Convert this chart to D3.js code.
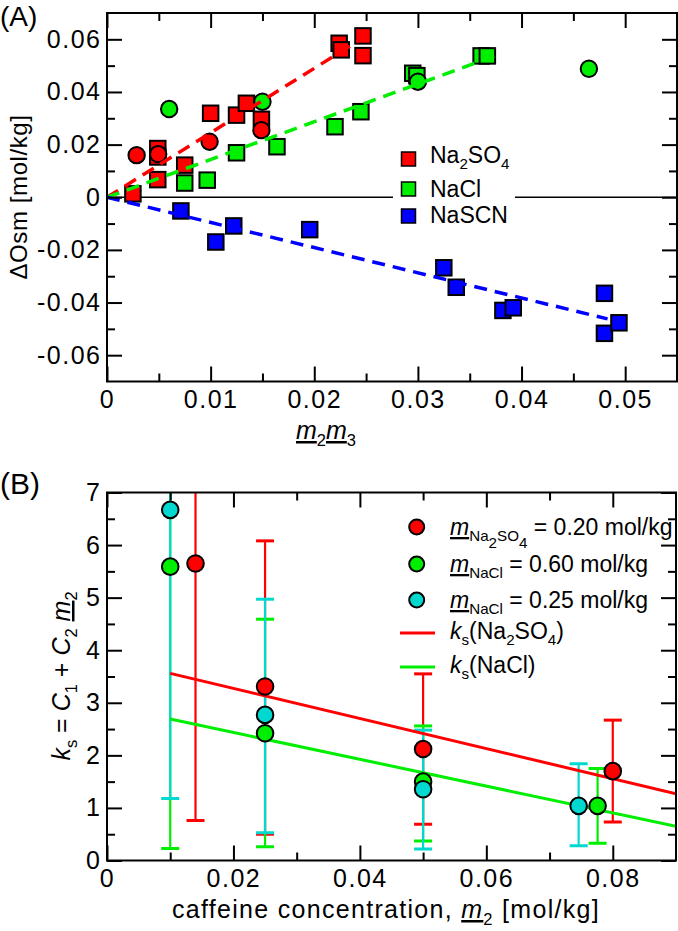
<!DOCTYPE html>
<html><head><meta charset="utf-8">
<script src="https://cdn.jsdelivr.net/npm/d3@7"></script>
<style>
html,body{margin:0;padding:0;background:#fff;}
svg text{font-family:"Liberation Sans",Arial,Helvetica,sans-serif;fill:#000;}
</style></head>
<body><svg id="c" width="678" height="931"></svg>
<script>
// ---------- Panel A data: [m2m3, ΔOsm] ----------
const na2so4Squares = [[0.0025,0.0013],[0.0049,0.0185],[0.0049,0.0153],[0.0049,0.0067],[0.0075,0.0122],[0.0100,0.0319],[0.0125,0.0312],[0.01345,0.0357],[0.0149,0.0296],[0.0224,0.0585],[0.0226,0.0560],[0.0247,0.0613],[0.0247,0.0538]];
const na2so4Circles = [[0.00286,0.0160],[0.00494,0.0164],[0.0099,0.0211],[0.0149,0.0255]];
const naclSquares = [[0.0075,0.0054],[0.00967,0.0065],[0.0125,0.0169],[0.0164,0.0192],[0.0220,0.0268],[0.0245,0.0325],[0.0295,0.0471],[0.0299,0.0462],[0.0361,0.0537],[0.0367,0.0537]];
const naclCircles = [[0.0060,0.0335],[0.0150,0.0363],[0.0300,0.0439],[0.0465,0.0488]];
const nascnSquares = [[0.00713,-0.0052],[0.0105,-0.0170],[0.01223,-0.0109],[0.01956,-0.0123],[0.0325,-0.0268],[0.0337,-0.0342],[0.0382,-0.0430],[0.0392,-0.0420],[0.0480,-0.0365],[0.0480,-0.0517],[0.0494,-0.0477]];
const fitNa2so4A = [[0,0],[0.0247,0.0605]];
const fitNaclA = [[0,0],[0.0380,0.0545]];
const fitNascnA = [[0,0],[0.0483,-0.0462]];
const aXMajor = [0,0.01,0.02,0.03,0.04,0.05];
const aXMinor = [0.005,0.015,0.025,0.035,0.045];
const aYMajor = [-0.06,-0.04,-0.02,0,0.02,0.04,0.06];
const aYMinor = [-0.05,-0.03,-0.01,0.01,0.03,0.05];

// ---------- Panel B data ----------
const bNa2so4X = [0.014,0.025,0.05,0.08];
const bNa2so4Y = [5.65,3.31,2.12,1.70];
const bNa2so4Lo = [0.76,0.50,0.69,0.73];
const bNa2so4Hi = [10.54,6.08,3.55,2.67];
const bNacl60X = [0.01,0.025,0.05,0.0776];
const bNacl60Y = [5.59,2.42,1.50,1.04];
const bNacl60Lo = [0.23,0.26,0.37,0.33];
const bNacl60Hi = [10.95,4.59,2.56,1.75];
const bNacl25X = [0.01,0.025,0.05,0.0746];
const bNacl25Y = [6.67,2.77,1.355,1.04];
const bNacl25Lo = [1.18,0.53,0.22,0.28];
const bNacl25Hi = [12.16,4.97,2.48,1.84];
const fitNa2so4B = [[0.01,3.56],[0.09,1.27]];
const fitNaclB = [[0.01,2.69],[0.09,0.65]];
const bXMajor = [0,0.02,0.04,0.06,0.08];
const bXMinor = [0.01,0.03,0.05,0.07];
const bYMajor = [0,1,2,3,4,5,6,7];
const bYMinor = [0.5,1.5,2.5,3.5,4.5,5.5,6.5];

const RED="#ff0000", GREEN="#00ee00", BLUE="#0000ff", CYAN="#00d8d0";

const svg = d3.select("#c");

// rich text helper
function rich(g, parts, fs, anchor, ls){
  const t = g.append("text").attr("font-size",fs).attr("text-anchor",anchor||"start");
  if(ls) t.attr("letter-spacing",ls);
  let shift = 0;
  parts.forEach(p=>{
    const s = t.append("tspan").text(p.t);
    let target = 0, size = fs;
    if(p.sub){ target = p.sub*fs*0.28; size = fs*0.66; }
    s.attr("dy", target-shift).attr("font-size", size);
    shift = target;
    if(p.it) s.attr("font-style","italic");
    if(p.u) s.attr("text-decoration","underline");
  });
  return t;
}

function axes(g, x, y, xMaj, xMin, yMaj, yMin, xfmt, yfmt){
  const [x0,x1] = x.range(), [y0,y1] = y.range();
  const mk = (ax, tr, size, fmt, pad) => {
    const a = g.append("g").attr("transform",tr).call(ax.tickSizeInner(-size).tickSizeOuter(0).tickPadding(pad).tickFormat(fmt));
    a.select(".domain").remove();
    a.selectAll("line").attr("stroke","#000").attr("stroke-width",2);
    a.attr("font-family",null).attr("font-size",25);
    a.selectAll("text").attr("letter-spacing",1.5);
    return a;
  };
  const none = ()=>"";
  mk(d3.axisBottom(x).tickValues(xMaj), `translate(0,${y0})`, 15, xfmt, 9);
  mk(d3.axisBottom(x).tickValues(xMin), `translate(0,${y0})`, 8, none, 9);
  mk(d3.axisTop(x).tickValues(xMaj), `translate(0,${y1})`, 15, none, 3);
  mk(d3.axisTop(x).tickValues(xMin), `translate(0,${y1})`, 8, none, 3);
  mk(d3.axisLeft(y).tickValues(yMaj), `translate(${x0},0)`, 15, yfmt, 5.5);
  mk(d3.axisLeft(y).tickValues(yMin), `translate(${x0},0)`, 8, none, 5.5);
  mk(d3.axisRight(y).tickValues(yMaj), `translate(${x1},0)`, 15, none, 3);
  mk(d3.axisRight(y).tickValues(yMin), `translate(${x1},0)`, 8, none, 3);
  g.append("rect").attr("x",x0).attr("y",y1).attr("width",x1-x0).attr("height",y0-y1)
    .attr("fill","none").attr("stroke","#000").attr("stroke-width",2);
}

const fmtDec = d => d===0 ? "0" : (d<0?"-":"") + Math.abs(d).toFixed(2);

// ================= Panel A =================
const xA = d3.scaleLinear([0,0.055],[107,677]);
const yA = d3.scaleLinear([-0.07,0.07],[381.5,13]);
const gA = svg.append("g");

// zero line
gA.append("line").attr("x1",xA(0)).attr("x2",xA(0.055)).attr("y1",yA(0)).attr("y2",yA(0))
  .attr("stroke","#000").attr("stroke-width",1.5);

const sq = 15.5;
function squares(data, col){
  gA.append("g").selectAll("rect").data(data).join("rect")
    .attr("x",d=>xA(d[0])-sq/2).attr("y",d=>yA(d[1])-sq/2).attr("width",sq).attr("height",sq)
    .attr("fill",col).attr("stroke","#000").attr("stroke-width",2);
}
function circlesA(data, col){
  gA.append("g").selectAll("circle").data(data).join("circle")
    .attr("cx",d=>xA(d[0])).attr("cy",d=>yA(d[1])).attr("r",8.2)
    .attr("fill",col).attr("stroke","#000").attr("stroke-width",2);
}
squares(na2so4Squares, RED);
circlesA(na2so4Circles, RED);
squares(naclSquares, GREEN);
circlesA(naclCircles, GREEN);
squares(nascnSquares, BLUE);

const lineA = d3.line().x(d=>xA(d[0])).y(d=>yA(d[1]));
[[fitNa2so4A,RED],[fitNaclA,GREEN],[fitNascnA,BLUE]].forEach(([d,c])=>{
  gA.append("path").attr("d",lineA(d)).attr("fill","none").attr("stroke",c)
    .attr("stroke-width",3.5).attr("stroke-dasharray","13,8");
});

// legend A
gA.append("rect").attr("x",393).attr("y",142).attr("width",122).attr("height",88).attr("fill","#fff");
const legA = [
  {c:RED, y:159, by:163, parts:[{t:"Na"},{t:"2",sub:1},{t:"SO"},{t:"4",sub:1}]},
  {c:GREEN, y:189, by:197, parts:[{t:"NaCl"}]},
  {c:BLUE, y:216, by:223, parts:[{t:"NaSCN"}]}
];
legA.forEach(l=>{
  gA.append("rect").attr("x",408.5-7).attr("y",l.y-7).attr("width",14).attr("height",14)
    .attr("fill",l.c).attr("stroke","#000").attr("stroke-width",1.5);
  rich(gA.append("g").attr("transform",`translate(430,${l.by})`), l.parts, 23);
});

axes(gA, xA, yA, aXMajor, aXMinor, aYMajor, aYMinor, fmtDec, fmtDec);

// labels A
rich(svg.append("g").attr("transform","translate(0,26)"), [{t:"(A)"}], 28);
rich(svg.append("g").attr("transform","translate(27,197) rotate(-90)"), [{t:"ΔOsm [mol/kg]"}], 24, "middle", 0.6);
rich(svg.append("g").attr("transform","translate(326,439)"),
  [{t:"m",it:1,u:1},{t:"2",sub:1},{t:"m",it:1,u:1},{t:"3",sub:1}], 25, "middle");

// ================= Panel B =================
const xB = d3.scaleLinear([0,0.09],[107,676]);
const yB = d3.scaleLinear([0,7],[860.5,492.5]);
const gB = svg.append("g");
svg.append("clipPath").attr("id","clipB").append("rect")
  .attr("x",107).attr("y",492.5).attr("width",569).attr("height",368);
const dB = gB.append("g").attr("clip-path","url(#clipB)");

const seriesB = [
  {c:RED, x:bNa2so4X, y:bNa2so4Y, lo:bNa2so4Lo, hi:bNa2so4Hi},
  {c:GREEN, x:bNacl60X, y:bNacl60Y, lo:bNacl60Lo, hi:bNacl60Hi},
  {c:CYAN, x:bNacl25X, y:bNacl25Y, lo:bNacl25Lo, hi:bNacl25Hi}
];
const cap = 9;
seriesB.forEach(s=>{
  const g = dB.append("g").attr("stroke",s.c).attr("fill","none");
  s.x.forEach((xv,i)=>{
    const px = xB(xv);
    g.append("line").attr("x1",px).attr("x2",px).attr("y1",yB(s.lo[i])).attr("y2",yB(s.hi[i])).attr("stroke-width",2.2);
    [s.lo[i],s.hi[i]].forEach(v=>{
      g.append("line").attr("x1",px-cap).attr("x2",px+cap).attr("y1",yB(v)).attr("y2",yB(v)).attr("stroke-width",3);
    });
  });
});
const lineB = d3.line().x(d=>xB(d[0])).y(d=>yB(d[1]));
[[fitNa2so4B,RED],[fitNaclB,GREEN]].forEach(([d,c])=>{
  dB.append("path").attr("d",lineB(d)).attr("fill","none").attr("stroke",c).attr("stroke-width",3);
});
seriesB.forEach(s=>{
  dB.append("g").selectAll("circle").data(s.x.map((xv,i)=>[xv,s.y[i]])).join("circle")
    .attr("cx",d=>xB(d[0])).attr("cy",d=>yB(d[1])).attr("r",8.3)
    .attr("fill",s.c).attr("stroke","#000").attr("stroke-width",2);
});

// legend B
const legB = [
  {c:RED, y:527, parts:[{t:"m",it:1,u:1},{t:"Na",sub:1},{t:"2",sub:2},{t:"SO",sub:1},{t:"4",sub:2},{t:" = 0.20 mol/kg"}]},
  {c:GREEN, y:564, parts:[{t:"m",it:1,u:1},{t:"NaCl",sub:1},{t:" = 0.60 mol/kg"}]},
  {c:CYAN, y:600, parts:[{t:"m",it:1,u:1},{t:"NaCl",sub:1},{t:" = 0.25 mol/kg"}]}
];
legB.forEach(l=>{
  gB.append("circle").attr("cx",416.7).attr("cy",l.y).attr("r",7.5)
    .attr("fill",l.c).attr("stroke","#000").attr("stroke-width",2);
  rich(gB.append("g").attr("transform",`translate(450,${l.y+8})`), l.parts, 23);
});
const legB2 = [
  {c:RED, y:633, parts:[{t:"k",it:1},{t:"s",sub:1},{t:"(Na"},{t:"2",sub:1},{t:"SO"},{t:"4",sub:1},{t:")"}]},
  {c:GREEN, y:667, parts:[{t:"k",it:1},{t:"s",sub:1},{t:"(NaCl)"}]}
];
legB2.forEach(l=>{
  gB.append("line").attr("x1",400).attr("x2",435).attr("y1",l.y).attr("y2",l.y)
    .attr("stroke",l.c).attr("stroke-width",3);
  rich(gB.append("g").attr("transform",`translate(450,${l.y+6})`), l.parts, 23);
});

axes(gB, xB, yB, bXMajor, bXMinor, bYMajor, bYMinor, fmtDec, d=>String(d));

rich(svg.append("g").attr("transform","translate(0,494)"), [{t:"(B)"}], 30);
rich(svg.append("g").attr("transform","translate(70,676) rotate(-90)"),
  [{t:"k",it:1},{t:"s",sub:1},{t:" = "},{t:"C",it:1},{t:"1",sub:1},{t:" + "},{t:"C",it:1},{t:"2",sub:1},{t:" "},{t:"m",it:1,u:1},{t:"2",sub:1}], 25, "middle");
rich(svg.append("g").attr("transform","translate(386,918)"),
  [{t:"caffeine concentration, "},{t:"m",it:1,u:1},{t:"2",sub:1},{t:" [mol/kg]"}], 25, "middle", 1.3);
</script></body></html>
